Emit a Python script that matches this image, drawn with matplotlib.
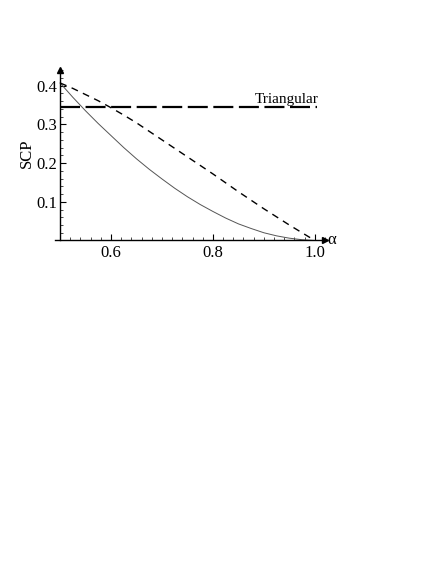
import numpy as np
import matplotlib.pyplot as plt
from matplotlib.ticker import MultipleLocator

plt.rcParams['font.family'] = ['Liberation Serif', 'DejaVu Serif']

# values
alpha = [0.5, 0.525, 0.55, 0.575, 0.6, 0.625, 0.65, 0.675, 0.7, 0.725, 0.75,
         0.775, 0.8, 0.825, 0.85, 0.875, 0.9, 0.925, 0.95, 0.975, 1.0]
scp_solid = [0.407, 0.370, 0.335, 0.302, 0.271, 0.240, 0.211, 0.184, 0.159, 0.135, 0.113,
             0.093, 0.075, 0.058, 0.043, 0.031, 0.020, 0.012, 0.006, 0.002, 0.0]
scp_dashed = [0.407, 0.393, 0.377, 0.361, 0.343, 0.324, 0.304, 0.282, 0.260, 0.238, 0.216,
              0.194, 0.172, 0.149, 0.126, 0.104, 0.082, 0.061, 0.040, 0.020, 0.0]
triangular = 0.346
tri_range = [0.5, 1.004]

W, H = 436, 564
fig = plt.figure(figsize=(W / 100, H / 100), dpi=100)

# axes box in pixels: alpha 0.49..1.02 -> x 55..325, scp 0..0.44 -> y 240.5..70
x0, x1 = 55, 325
y0, y1 = 240.5, 70.2
ax = fig.add_axes([x0 / W, 1 - y0 / H, (x1 - x0) / W, (y0 - y1) / H])
ax.set_xlim(0.49, 1.02)
ax.set_ylim(0, 0.44)

ax.plot(alpha, scp_solid, color='#555555', lw=0.7)
ax.plot(alpha, scp_dashed, color='black', lw=1.0, dashes=(5, 4))
ax.plot(tri_range, [triangular, triangular], color='black', lw=1.6, dashes=(9, 2.5))
ax.text(0.944, triangular + 0.001, 'Triangular', ha='center', va='bottom', fontsize=11)

for s in ['top', 'right']:
    ax.spines[s].set_visible(False)
ax.spines['left'].set_position(('data', 0.5))
ax.spines['bottom'].set_position(('data', 0))
ax.spines['left'].set_linewidth(1.0)
ax.spines['bottom'].set_linewidth(1.0)
ax.plot(1, 0, '>k', ms=4, transform=ax.get_yaxis_transform(), clip_on=False)
ax.plot(0.5, 1, '^k', ms=4, transform=ax.get_xaxis_transform(), clip_on=False)

ax.set_xticks([0.6, 0.8, 1.0])
ax.set_xticklabels(['0.6', '0.8', '1.0'])
ax.set_yticks([0.1, 0.2, 0.3, 0.4])
ax.set_yticklabels(['0.1', '0.2', '0.3', '0.4'])
ax.xaxis.set_minor_locator(MultipleLocator(0.02))
ax.yaxis.set_minor_locator(MultipleLocator(0.02))
ax.tick_params(which='major', direction='in', length=4, width=0.8, labelsize=12)
ax.tick_params(axis='y', which='major', pad=2)
ax.tick_params(axis='x', which='major', pad=3)
ax.tick_params(which='minor', direction='in', length=2, width=0.5)

ax.set_ylabel('SCP', fontsize=12)
ax.yaxis.set_label_coords(-0.075, 0.51)
ax.text(1.025, 0, 'α', ha='left', va='center', fontsize=12)

fig.savefig('out.png', dpi=100)
